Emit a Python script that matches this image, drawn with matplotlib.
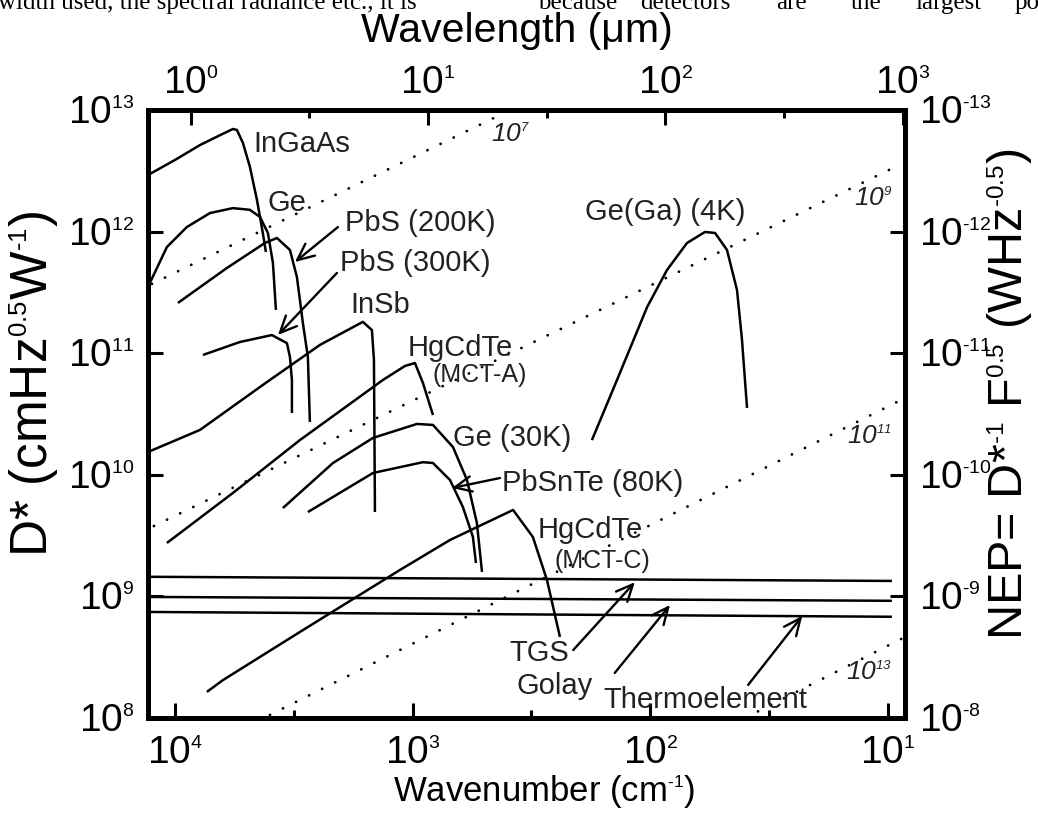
import math
import matplotlib
matplotlib.use("Agg")
import matplotlib.pyplot as plt
import matplotlib._mathtext as _mt
from matplotlib.ticker import FixedLocator, NullFormatter, FuncFormatter

_mt.SHRINK_FACTOR = 0.5

plt.rcParams['font.family'] = ['Liberation Sans', 'DejaVu Sans']
plt.rcParams['mathtext.fontset'] = 'custom'
plt.rcParams['mathtext.rm'] = 'Liberation Sans'
plt.rcParams['mathtext.it'] = 'Liberation Sans:italic'
plt.rcParams['mathtext.sf'] = 'Liberation Sans:italic'
plt.rcParams['mathtext.bf'] = 'Liberation Sans:bold'
plt.rcParams['mathtext.default'] = 'regular'
HY = '\u2010'  # short hyphen used in the reference superscripts

# ---------------- data (wavenumber in cm^-1, D* in cm Hz^0.5 W^-1) ----------------
ingaas_wn = [13030, 10040, 7870, 6490, 5720, 5500, 5190, 4850, 4530, 4280, 4155]
ingaas_d = [2.92e12, 3.88e12, 5.15e12, 6.2e12, 6.98e12, 6.85e12, 5.35e12, 3.40e12, 1.82e12, 9.74e11, 6.80e11]

ge_wn = [12800, 10850, 8940, 7150, 5720, 4850, 4400, 4075, 3880, 3770]
ge_d = [3.78e11, 7.47e11, 1.09e12, 1.42e12, 1.56e12, 1.51e12, 1.32e12, 9.74e11, 5.52e11, 2.27e11]

pbs200_wn = [9750, 6065, 4195, 3733, 3290, 3075, 2902, 2765, 2712]
pbs200_d = [2.59e11, 5.02e11, 8.06e11, 8.86e11, 7.06e11, 4.23e11, 1.77e11, 9.31e10, 2.72e10]

pbs300_wn = [7650, 5345, 3920, 3388, 3290, 3228, 3228]
pbs300_d = [9.67e10, 1.236e11, 1.41e11, 1.21e11, 9.31e10, 6.02e10, 3.22e10]

insb_wn = [13030, 7870, 4280, 2460, 1622, 1486, 1457, 1443]
insb_d = [1.54e10, 2.34e10, 5.48e10, 1.17e11, 1.81e11, 1.55e11, 8.8e10, 4.94e9]

mcta_wn = [10850, 5720, 2987, 1336, 1079, 979, 906, 822]
mcta_d = [2.75e9, 7.09e9, 1.93e10, 6.02e10, 7.85e10, 8.30e10, 5.69e10, 3.10e10]

ge30_wn = [3523, 2168, 1471, 960, 822, 677, 591, 537, 511]
ge30_d = [5.33e9, 1.25e10, 2.01e10, 2.62e10, 2.57e10, 1.69e10, 9.06e9, 4.02e9, 1.59e9]

pbsnte_wn = [2765, 1471, 906, 822, 697, 615, 558, 542]
pbsnte_d = [4.94e9, 1.035e10, 1.27e10, 1.25e10, 9.06e9, 5.43e9, 3.08e9, 1.88e9]

mctc_wn = [7360, 6300, 2987, 1132, 697, 378, 312, 272, 240]
mctc_d = [1.64e8, 2.05e8, 5.1e8, 1.65e9, 2.91e9, 5.14e9, 3.08e9, 1.36e9, 4.64e8]

gega_wn = [176, 138, 103, 85, 70, 58.8, 53.3, 47.5, 43.1, 41.1, 39.1]
gega_d = [1.93e10, 6.02e10, 2.40e11, 4.83e11, 8.06e11, 9.93e11, 9.74e11, 7.06e11, 3.31e11, 1.31e11, 3.54e10]

flat_wn = [13030, 9.6]
tgs_d = [1.45e9, 1.34e9]
golay_d = [9.9e8, 9.2e8]
thermo_d = [7.45e8, 6.8e8]

# constant-NEP reference lines (label exponent, wavenumber endpoints, D* endpoints)
ref_exps = ['7', '9', '11', '13']
ref_wn = [[12550, 429], [12310, 9.13], [3996, 9.13], [39.9, 8.61]]
ref_d = [[3.71e11, 9.1e12], [3.79e9, 3.46e12], [1.06e8, 3.97e10], [1.0e8, 4.55e8]]

bottom_ticks = [1e4, 1e3, 1e2, 1e1]
top_ticks = [1, 10, 100, 1000]
left_ticks = [1e8, 1e9, 1e10, 1e11, 1e12, 1e13]
right_ticks = [1e-13, 1e-12, 1e-11, 1e-10, 1e-9, 1e-8]
WL_CONST = 8630.0   # wavelength scale as drawn in the reference (um = WL_CONST / wavenumber)

# ---------------- figure ----------------
W, H = 1038, 814
fig = plt.figure(figsize=(W / 100, H / 100), dpi=100)
L, R, T, B = 148, 905, 110, 718
ax = fig.add_axes([L / W, 1 - B / H, (R - L) / W, (B - T) / H])
ax.set_xscale('log')
ax.set_yscale('log')
ax.set_xlim(10 ** 4.115, 10 ** 0.927)
ax.set_ylim(1e8, 1e13)


def px(x, y):
    """pixel position in the picture -> axes fraction"""
    return (x - L) / (R - L), (B - y) / (B - T)


lw = 1.8
for xs, ys in [(ingaas_wn, ingaas_d), (ge_wn, ge_d), (pbs200_wn, pbs200_d),
               (pbs300_wn, pbs300_d), (insb_wn, insb_d), (mcta_wn, mcta_d),
               (ge30_wn, ge30_d), (pbsnte_wn, pbsnte_d), (mctc_wn, mctc_d),
               (gega_wn, gega_d), (flat_wn, tgs_d), (flat_wn, golay_d),
               (flat_wn, thermo_d)]:
    ax.plot(xs, ys, color='black', lw=lw, solid_joinstyle='round', solid_capstyle='butt')

for xs, ys in zip(ref_wn, ref_d):
    ax.plot(xs, ys, color='black', lw=2.0, linestyle=(0, (0.05, 5.2)), dash_capstyle='round')

# ---------------- labels ----------------
fs_lab = 21
labels = [
    ("InGaAs", 4713, 5.25e12, fs_lab),
    ("Ge", 4075, 1.72e12, fs_lab),
    ("PbS (200K)", 1931, 1.18e12, fs_lab),
    ("PbS (300K)", 2026, 5.52e11, fs_lab),
    ("InSb", 1839, 2.49e11, fs_lab),
    ("HgCdTe", 1048, 1.10e11, fs_lab),
    ("(MCT-A)", 822, 6.62e10, 18),
    ("Ge(Ga) (4K)", 188, 1.45e12, fs_lab),
    ("Ge (30K)", 677, 2.01e10, fs_lab),
    ("PbSnTe (80K)", 421, 8.56e9, fs_lab),
    ("HgCdTe", 297, 3.52e9, fs_lab),
    ("(MCT-C)", 252, 1.96e9, 18),
    ("TGS", 390, 3.42e8, fs_lab),
    ("Golay", 364, 1.83e8, fs_lab),
    ("Thermoelement", 158, 1.41e8, fs_lab),
]
for txt, x, y, fs in labels:
    ax.text(x, y, txt, fontsize=fs, ha='left', va='center', color='#222222')

ref_pos = [(470, 6.23e12), (13.9, 1.85e12), (14.9, 2.05e10), (15.0, 2.35e8)]
for e, (x, y) in zip(ref_exps, ref_pos):
    ax.text(x, y, r'$\mathsf{10}^{\mathsf{' + e + '}}$', fontsize=19, ha='left', va='center',
            color='#222222')

arrows = [
    ((3135, 5.62e11), (2066, 1.09e12)),
    ((3698, 1.41e11), (2086, 4.57e11)),
    ((684, 7.79e9), (429, 9.41e9)),
    ((116, 1.31e9), (211, 3.62e8)),
    ((82.5, 8.5e8), (141, 2.35e8)),
    ((22.9, 6.9e8), (38.7, 1.87e8)),
]
for head, tail in arrows:
    ax.annotate('', xy=head, xytext=tail,
                arrowprops=dict(arrowstyle='->,head_length=0.55,head_width=0.25',
                                lw=1.7, color='black', shrinkA=0, shrinkB=0,
                                mutation_scale=22))

# ---------------- axes styling ----------------
for s in ax.spines.values():
    s.set_linewidth(3.6)


def pow_fmt(v, pos=None):
    e = int(round(math.log10(v)))
    s = str(abs(e))
    if e < 0:
        s = HY + s
    return r'$10^{%s}$' % s


tick_fs = 28
ax.xaxis.set_major_locator(FixedLocator(bottom_ticks))
ax.xaxis.set_minor_locator(FixedLocator([10 ** 3.5, 10 ** 2.5, 10 ** 1.5]))
ax.xaxis.set_major_formatter(FuncFormatter(pow_fmt))
ax.xaxis.set_minor_formatter(NullFormatter())
ax.yaxis.set_major_locator(FixedLocator(left_ticks))
ax.yaxis.set_minor_locator(FixedLocator([]))
ax.yaxis.set_major_formatter(FuncFormatter(pow_fmt))
ax.tick_params(which='major', direction='in', length=11, width=2.2, labelsize=tick_fs,
               top=False, right=False)
ax.tick_params(which='minor', direction='in', length=6, width=2.2, top=False, right=False)
ax.tick_params(axis='x', pad=13)
ax.tick_params(axis='y', pad=10)

secx = ax.secondary_xaxis('top', functions=(lambda x: WL_CONST / x, lambda x: WL_CONST / x))
secx.xaxis.set_major_locator(FixedLocator(top_ticks))
secx.xaxis.set_minor_locator(FixedLocator([10 ** 0.5, 10 ** 1.5, 10 ** 2.5]))
secx.xaxis.set_major_formatter(FuncFormatter(pow_fmt))
secx.xaxis.set_minor_formatter(NullFormatter())
secx.tick_params(which='major', direction='in', length=11, width=2.2, labelsize=tick_fs, pad=6)
secx.tick_params(which='minor', direction='in', length=6, width=2.2)
secx.spines['top'].set_linewidth(3.6)
secx.set_xlabel('Wavelength (μm)', fontsize=29.5, va='center', ha='center')
secx.xaxis.set_label_coords(*px(517, 31), transform=ax.transAxes)

secy = ax.secondary_yaxis('right', functions=(lambda d: 1.0 / d, lambda n: 1.0 / n))
secy.yaxis.set_major_locator(FixedLocator(right_ticks))
secy.yaxis.set_minor_locator(FixedLocator([]))
secy.yaxis.set_major_formatter(FuncFormatter(pow_fmt))
secy.tick_params(which='major', direction='in', length=11, width=2.2, labelsize=tick_fs, pad=10)
secy.spines['right'].set_linewidth(3.6)
secy.set_ylabel('NEP= D*$^{%s1}$ F$^{0.5}$ (WHz$^{%s0.5}$)' % (HY, HY), fontsize=35,
                rotation=90, va='center', ha='center', rotation_mode='anchor')
secy.yaxis.set_label_coords(*px(1010, 394), transform=ax.transAxes)

ax.set_xlabel('Wavenumber (cm$^{%s1}$)' % HY, fontsize=25, va='center', ha='center')
ax.xaxis.set_label_coords(*px(544, 791), transform=ax.transAxes)
ax.set_ylabel(r'D* (cmHz$^{0.5}$W$^{%s1}$)' % HY, fontsize=37, rotation=90,
              va='center', ha='center', rotation_mode='anchor')
ax.yaxis.set_label_coords(*px(34, 384), transform=ax.transAxes)

# clipped running text from the source page
hdr_y = 1 - 9 / H
fig.text(-0.002, hdr_y, 'width used, the spectral radiance etc., it is', fontsize=18,
         family='Liberation Serif', va='baseline', ha='left')
for word, xp in [('because', 538), ('detectors', 640), ('are', 776), ('the', 851),
                 ('largest', 915), ('po', 1015)]:
    fig.text(xp / W, hdr_y, word, fontsize=18, family='Liberation Serif', va='baseline', ha='left')

fig.savefig('out.png', dpi=100)
